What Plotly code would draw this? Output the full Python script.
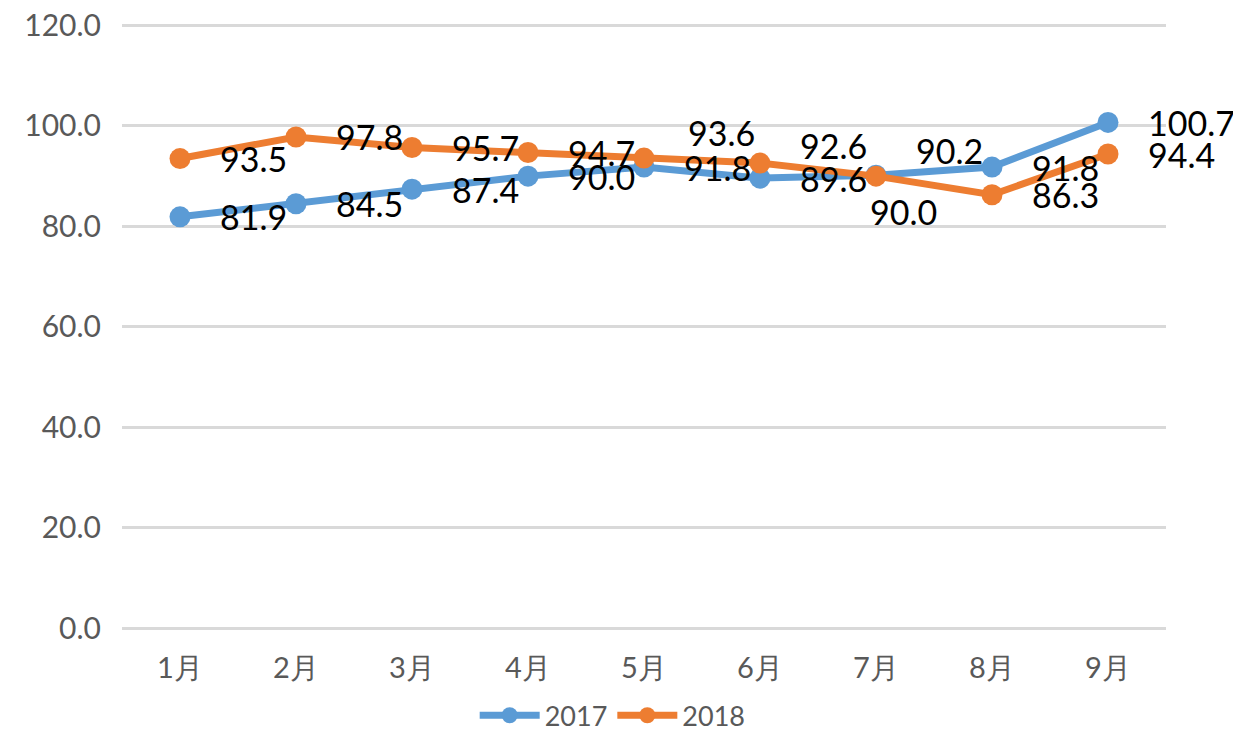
import plotly.graph_objects as go

months = ["1月", "2月", "3月", "4月", "5月", "6月", "7月", "8月", "9月"]
series_names = ["2017", "2018"]
values_2017 = [81.9, 84.5, 87.4, 90.0, 91.8, 89.6, 90.2, 91.8, 100.7]
values_2018 = [93.5, 97.8, 95.7, 94.7, 93.6, 92.6, 90.0, 86.3, 94.4]
y_ticks = [0, 20, 40, 60, 80, 100, 120]

# label placement (pixel shifts), kept separate from data
label_shift_2017 = [(38, 0)] * 6 + [(38, 25)] + [(38, 0)] * 2
label_shift_2018 = [(38, 0)] * 4 + [(42, 26), (38, 18), (-8, -35)] + [(38, 0)] * 2

colors = ["#5B9BD5", "#ED7D31"]
font_family = "Lato, 'Open Sans', sans-serif"

fig = go.Figure()
for name, vals, col in zip(series_names, [values_2017, values_2018], colors):
    fig.add_trace(go.Scatter(
        x=months, y=vals, name=name, mode="lines+markers",
        line=dict(color=col, width=7),
        marker=dict(color=col, size=21),
        cliponaxis=False,
    ))

annotations = []
for vals, shifts in [(values_2017, label_shift_2017), (values_2018, label_shift_2018)]:
    for m, v, (dx, dy) in zip(months, vals, shifts):
        annotations.append(dict(
            x=m, y=v, xref="x", yref="y", text=f"{v:.1f}", showarrow=False,
            xanchor="left", yanchor="middle", xshift=dx, yshift=dy,
            font=dict(family=font_family, size=34, color="#000000"),
        ))

# page has an 8px body margin, so the figure is sized 8px smaller
fig.update_layout(
    width=1233, height=726, autosize=False,
    margin=dict(l=114, r=75, t=14.5, b=106, autoexpand=False),
    paper_bgcolor="white", plot_bgcolor="white",
    showlegend=True,
    legend=dict(
        orientation="h", x=0.47, xanchor="center",
        y=-0.145, yanchor="middle",
        font=dict(family=font_family, size=27, color="#595959"),
        itemwidth=60, tracegroupgap=0,
    ),
    annotations=annotations,
)
fig.update_xaxes(
    type="category", range=[-0.5, 8.5], showgrid=False, showline=False,
    zeroline=False, ticks="", ticklabelstandoff=20, tickangle=0, automargin=False,
    ticklabeloverflow="allow",
    tickfont=dict(family=font_family, size=29, color="#595959"),
)
fig.update_yaxes(
    range=[0, 120.5], tickvals=y_ticks, tickformat=".1f", automargin=False,
    ticklabeloverflow="allow",
    showgrid=True, gridcolor="#D9D9D9", gridwidth=3,
    zeroline=True, zerolinecolor="#D9D9D9", zerolinewidth=3,
    showline=False, ticks="", ticklabelstandoff=20,
    tickfont=dict(family=font_family, size=30, color="#595959"),
)

fig.write_html("out.html")
